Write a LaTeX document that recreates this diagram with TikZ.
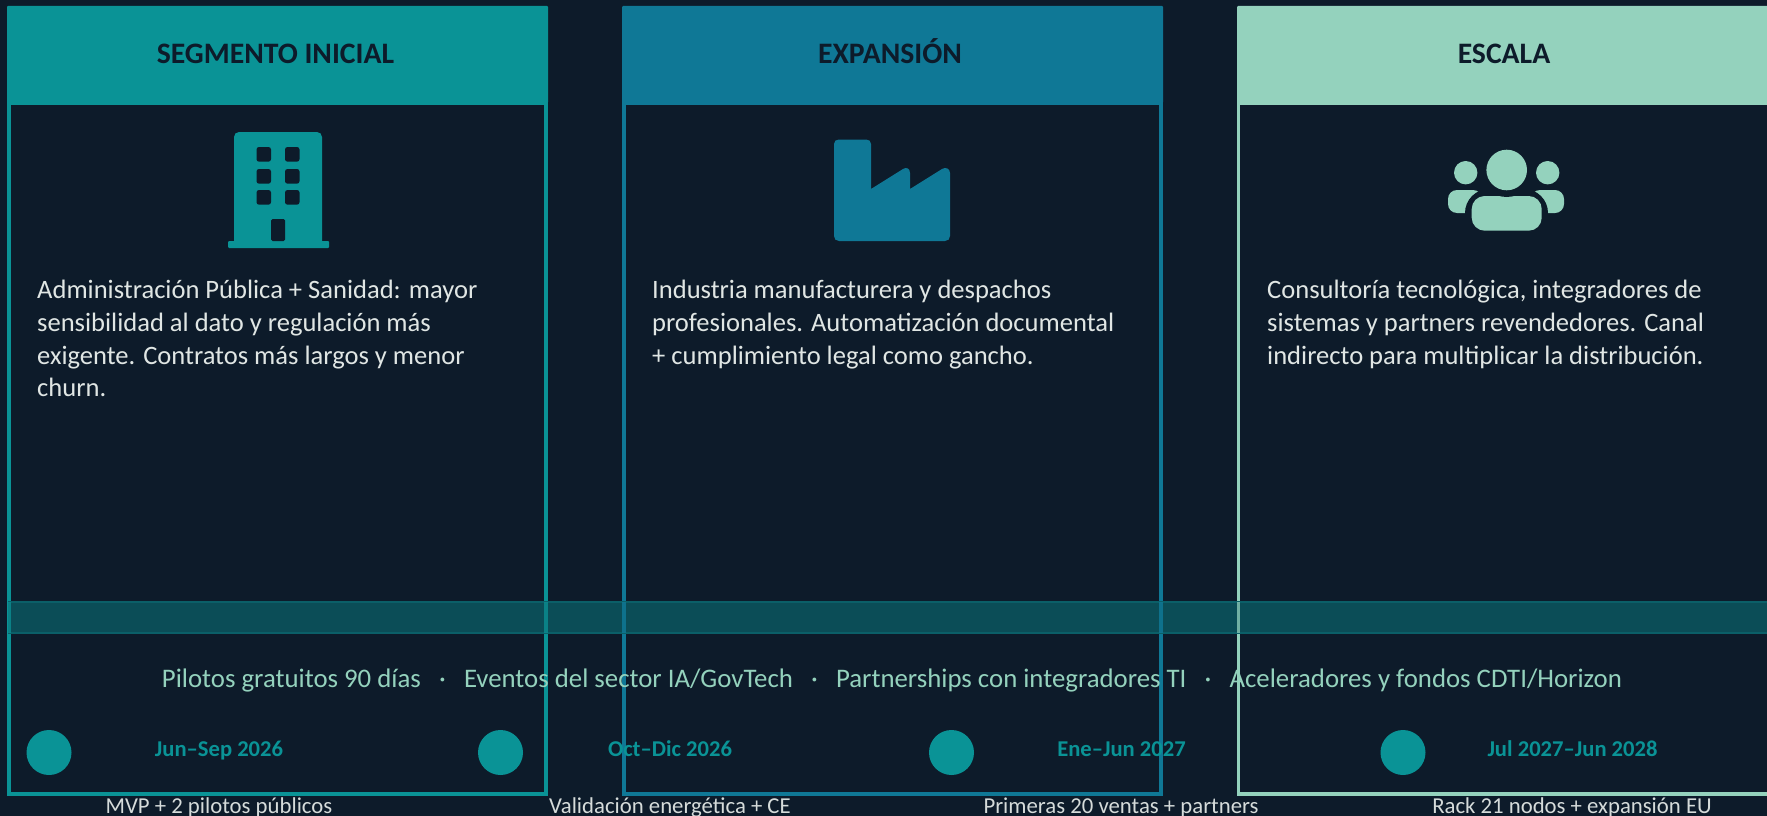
\documentclass[tikz,border=0pt]{standalone}
\usepackage{fontspec}
\setmainfont{Carlito}
\definecolor{bgc}{HTML}{0D1B2A}
\definecolor{teal}{HTML}{0A9396}
\definecolor{bluec}{HTML}{0F7896}
\definecolor{mint}{HTML}{94D2BD}
\definecolor{bandc}{HTML}{0B4D57}
\definecolor{bandl}{HTML}{0B5F68}
\definecolor{bodyc}{HTML}{E0E6E4}
\definecolor{msgc}{HTML}{D5DBDA}
\tikzset{
 x=1pt,y=-1pt,
 frame/.style={draw=#1,line width=3.2pt,fill=bgc,rectangle,inner sep=0pt,outer sep=0pt,anchor=north west,minimum width=537pt,minimum height=691pt},
 head/.style={fill=#1,rectangle,rounded corners=1pt,inner sep=0pt,outer sep=0pt,anchor=north west,minimum width=541pt,minimum height=97pt},
 headtxt/.style={text=bgc,font=\fontsize{29.7}{34}\selectfont\bfseries,inner sep=0pt,anchor=base},
 bodytxt/.style={text=bodyc,font=\fontsize{26.55}{32.7}\selectfont,align=left,anchor=north west,inner sep=0pt},
 datetxt/.style={text=teal,font=\fontsize{22.6}{26}\selectfont\bfseries,inner sep=0pt,anchor=base},
 msgtxt/.style={text=msgc,font=\fontsize{22.75}{26}\selectfont,inner sep=0pt,anchor=base},
 dot/.style={circle,fill=teal,minimum size=45pt,inner sep=0pt},
}
\begin{document}
\begin{tikzpicture}
\useasboundingbox (0,0) rectangle (1767,816);
\fill[bgc] (0,0) rectangle (1767,816);
% cards
\node[frame=teal] (f1) at (9,103) {};
\node[frame=bluec] (f2) at (624,103) {};
\node[frame=mint] (f3) at (1238.6,103) {};
% band
\fill[bandc] (8,602) rectangle (1767,633);
\draw[bandl,line width=1.5pt] (8,602) -- (1767,602) (8,633) -- (1767,633);
\draw[teal,line width=3.2pt,opacity=.75] (9,602) -- (9,633) (546,602) -- (546,633);
\draw[bluec,line width=3.2pt,opacity=.85] (624,602) -- (624,633) (1161,602) -- (1161,633);
\draw[mint,line width=3.2pt,opacity=.75] (1238.6,602) -- (1238.6,633);
% headers
\node[head=teal] (h1) at (7,6) {};
\node[head=bluec] (h2) at (622,6) {};
\node[head=mint] (h3) at (1237,6) {};
\node[headtxt] (t1) at (275.5,63.5) {SEGMENTO INICIAL};
\node[headtxt] (t2) at (890,63.5) {EXPANSIÓN};
\node[headtxt] (t3) at (1504,63.5) {ESCALA};
% building
\fill[teal,rounded corners=5pt] (234,246) -- (234,132) -- (322,132) -- (322,246) -- cycle;
\fill[teal,rounded corners=1pt] (228,248) -- (228,241) -- (329,241) -- (329,248) -- cycle;
\foreach \wx in {256.5,285}\foreach \wy in {147,169,190}
 \fill[bgc,rounded corners=2.5pt] (\wx,\wy) rectangle ++(14.5,14.7);
\fill[bgc,rounded corners=1.5pt] (271,241) -- (271,219) -- (285,219) -- (285,241) -- cycle;
% factory
\fill[bluec] (839,241) .. controls (836,241) and (834,239) .. (834,236) -- (834,144) .. controls (834,141) and (836,139.5) .. (839,139.5) -- (866,139.5) .. controls (869,139.5) and (871,141) .. (871,144) -- (871,189) -- (903,169) .. controls (906,167) and (910,168) .. (910,173) -- (910,189) -- (942,169) .. controls (945,167) and (950,168) .. (950,173) -- (950,236) .. controls (950,239) and (948,241) .. (945,241) -- cycle;
% users
\fill[mint] (1465.7,172.7) circle (11.7);
\fill[mint] (1547.7,172.7) circle (11.7);
\fill[mint,rounded corners=9pt] (1448,213) -- (1448,190) -- (1482,190) -- (1482,213) -- cycle;
\fill[mint,rounded corners=9pt] (1531,213) -- (1531,190) -- (1564,190) -- (1564,213) -- cycle;
\fill[bgc,rounded corners=24pt] (1465,240) -- (1465,189) -- (1548,189) -- (1548,240) -- cycle;
\fill[mint,rounded corners=13pt] (1471.7,230.7) -- (1471.7,196) -- (1541.7,196) -- (1541.7,230.7) -- cycle;
\fill[bgc] (1506.7,170) circle (27);
\fill[mint] (1506.7,170) circle (20.3);
% body texts
\node[bodytxt] (b1) at (37,280) {Administración Pública + Sanidad: mayor\\sensibilidad al dato y regulación más\\exigente. Contratos más largos y menor\\churn.};
\node[bodytxt] (b2) at (652,280) {Industria manufacturera y despachos\\profesionales. Automatización documental\\+ cumplimiento legal como gancho.};
\node[bodytxt] (b3) at (1267,280) {Consultoría tecnológica, integradores de\\sistemas y partners revendedores. Canal\\indirecto para multiplicar la distribución.};
% channels
\node[text=mint,font=\fontsize{26.8}{30}\selectfont,inner sep=0pt,anchor=base] (chan) at (892,687) {Pilotos gratuitos 90 días~~~·~~~Eventos del sector IA/GovTech~~~·~~~Partnerships con integradores TI~~~·~~~Aceleradores y fondos CDTI/Horizon};
% timeline
\node[dot] (d1) at (49,752.5) {};
\node[dot] (d2) at (500.5,752.5) {};
\node[dot] (d3) at (951.5,752.5) {};
\node[dot] (d4) at (1403,752.5) {};
\node[datetxt] (dt1) at (219,756.5) {Jun–Sep 2026};
\node[datetxt] (dt2) at (670,756.5) {Oct–Dic 2026};
\node[datetxt] (dt3) at (1121.5,756.5) {Ene–Jun 2027};
\node[datetxt] (dt4) at (1572.5,756.5) {Jul 2027–Jun 2028};
\node[msgtxt] (m1) at (219,813) {MVP + 2 pilotos públicos};
\node[msgtxt] (m2) at (670,813) {Validación energética + CE};
\node[msgtxt] (m3) at (1121,813) {Primeras 20 ventas + partners};
\node[msgtxt] (m4) at (1572,813) {Rack 21 nodos + expansión EU};
\end{tikzpicture}
\end{document}
